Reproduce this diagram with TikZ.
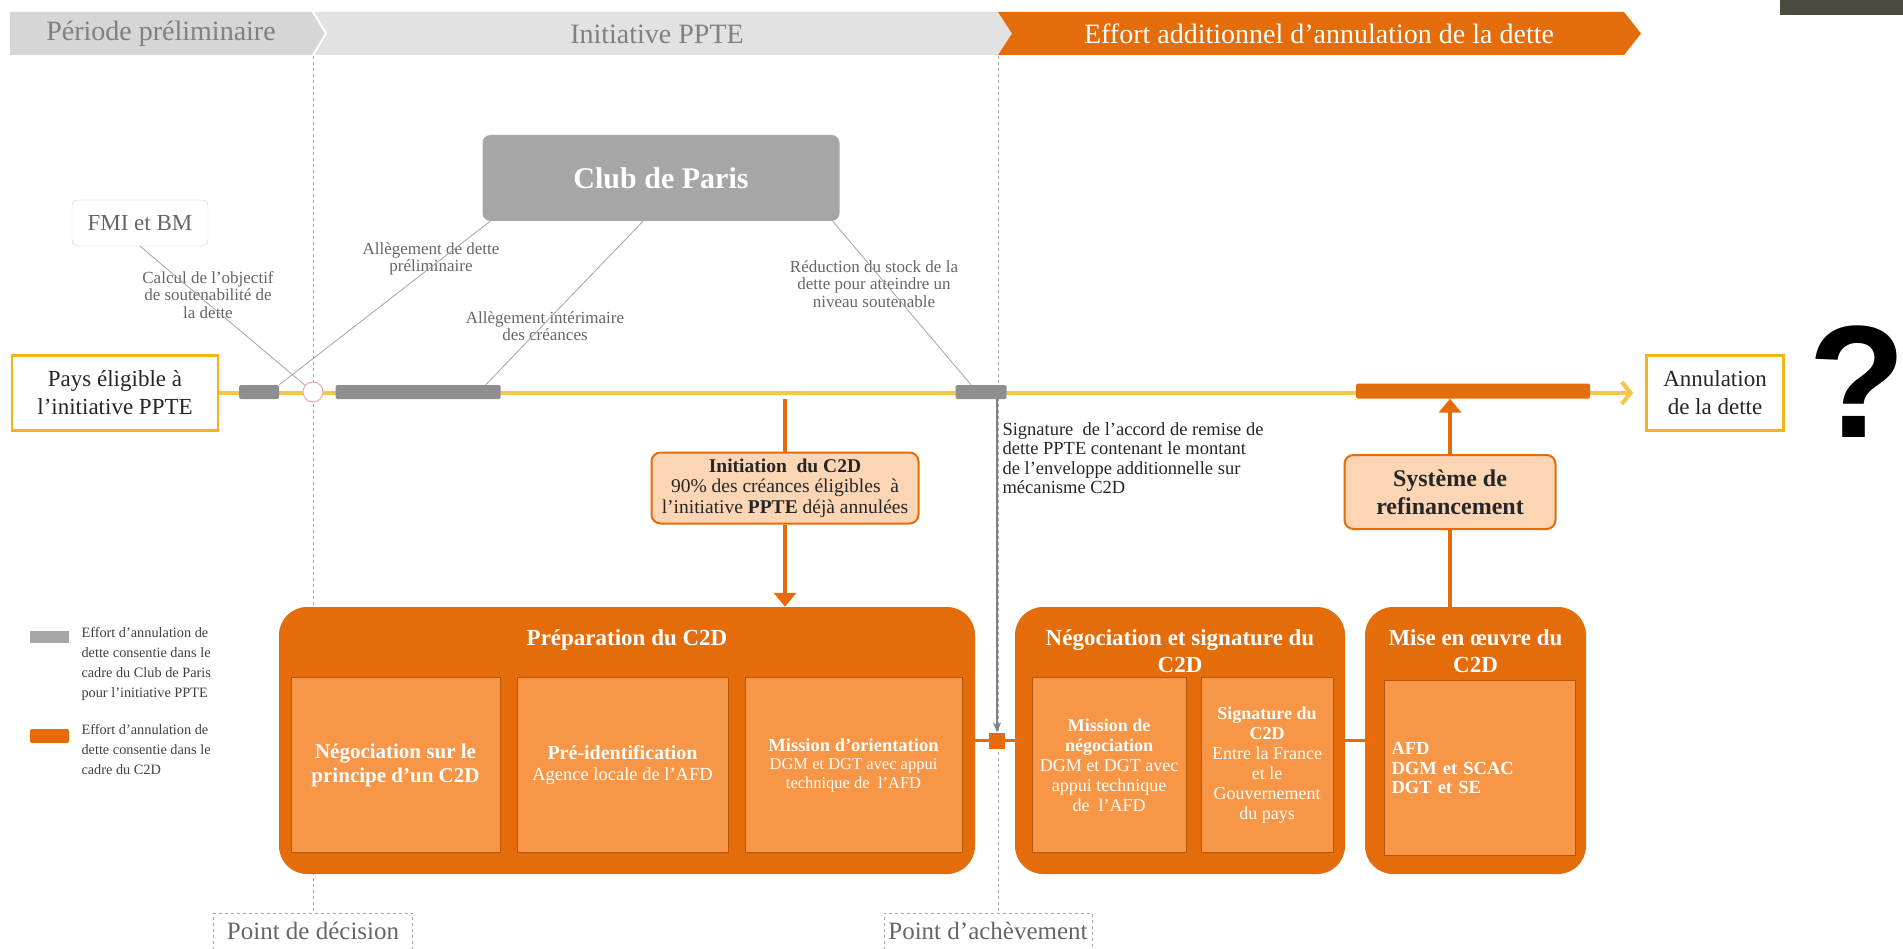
\documentclass[tikz,border=0pt]{standalone}
\usepackage{fontspec}
\setmainfont{Liberation Serif}
\newfontfamily\qfont{Liberation Sans}
\usetikzlibrary{arrows.meta}

\definecolor{c2dor}{HTML}{E46C0A}
\definecolor{c2dlight}{HTML}{F79646}
\definecolor{peach}{HTML}{FCD5B4}
\definecolor{cpgray}{HTML}{A6A6A6}
\definecolor{bargray}{HTML}{8F8F8F}
\definecolor{lblgray}{HTML}{666666}
\definecolor{tline}{HTML}{F7C54A}
\definecolor{gold}{HTML}{F2B31B}
\definecolor{banA}{HTML}{D6D6D6}
\definecolor{banB}{HTML}{E2E2E2}
\definecolor{darkcorner}{HTML}{4B4A3C}

\newcommand{\fsz}[2]{\fontsize{#1}{#2}\selectfont}

\tikzset{
  bantext/.style={font=\fsz{28}{32}},
  bar/.style={fill=bargray,rounded corners=1.5pt,minimum height=14pt,inner sep=0pt},
  lbl/.style={text=lblgray,font=\fsz{17}{17.5},align=center},
  thinline/.style={draw=lblgray!60,line width=0.8pt},
  endbox/.style={draw=gold,line width=2.5pt,fill=white,minimum height=75pt,align=center,
    text=black!85,font=\fsz{23}{28}},
  phase/.style={fill=c2dor,rounded corners=28pt,minimum height=267pt,inner sep=0pt},
  inbox/.style={fill=c2dlight,draw=c2dor!80!black,line width=0.6pt,minimum height=175pt,
    align=center,text=white,font=\fsz{18}{20},inner sep=1pt},
  ptitle/.style={text=white,font=\bfseries\fsz{23}{27},align=center},
  callout/.style={fill=peach,draw=c2dor,line width=2pt,rounded corners=9pt,align=center,
    text=black!85,font=\fsz{19.5}{20.5}},
  c2dline/.style={draw=c2dor,line width=3.5pt},
  c2darrow/.style={c2dline,-{Triangle[length=14pt,width=22pt]}},
  vline/.style={draw=gray!70,dashed,line width=0.7pt},
  pointbox/.style={draw=gray!70,dashed,line width=0.7pt,minimum height=36pt,text=lblgray,
    font=\fsz{25}{28}},
  legtext/.style={anchor=north west,align=left,text=black!75,font=\fsz{14.3}{20}},
}

\begin{document}
\begin{tikzpicture}[x=1pt,y=-1pt]
\useasboundingbox (0,0) rectangle (1903,949);
\fill[darkcorner] (1780,0) rectangle (1903,15);
\fill[banA] (10,12) -- (313,12) -- (326,33.5) -- (313,55) -- (10,55) -- cycle;
\fill[banB] (313,12) -- (998,12) -- (1012,33.5) -- (998,55) -- (313,55) -- (326,33.5) -- cycle;
\fill[c2dor] (998,12) -- (1624,12) -- (1641,33.5) -- (1624,55) -- (998,55) -- (1012,33.5) -- cycle;
\draw[white,line width=2pt] (313,12) -- (326,33.5) -- (313,55);
\node[bantext,text=gray] (tprelim) at (161,34) {Période préliminaire};
\node[bantext,text=gray] (tppte) at (657,34) {Initiative PPTE};
\node[bantext,text=white] (teffort) at (1319,34) {Effort additionnel d'annulation de la dette};

\node[pointbox,minimum width=199pt] (pdec) at (313,931) {Point de décision};
\node[pointbox,minimum width=208pt] (pach) at (988,931) {Point d'achèvement};
\coordinate (dtop) at (313,56);
\coordinate (atop) at (998,56);
\draw[vline] (dtop) -- (pdec.north);
\draw[vline] (atop) -- (atop |- pach.north);

\node[endbox,minimum width=206pt] (pays) at (115,393) {Pays éligible à\\l'initiative PPTE};
\node[endbox,minimum width=137pt] (annul) at (1715,393) {Annulation\\de la dette};
\draw[tline,line width=4pt,shorten >=12pt,-{Straight Barb[length=9pt,width=22pt]}] (pays.east) -- (annul.west);

\node[bar,minimum width=40pt] (bar1) at (259,392) {};
\node[circle,draw={rgb,255:red,233;green,168;blue,184},fill=white,line width=1pt,minimum size=20pt,inner sep=0pt] (dec) at (313,392) {};
\node[bar,minimum width=165pt] (bar2) at (418,392) {};
\node[bar,minimum width=51pt] (bar3) at (981,392) {};
\node[bar,fill=c2dor,minimum width=234pt,minimum height=15pt] (c2dbar) at (1473,391) {};

\node[fill=cpgray,rounded corners=8pt,minimum width=357pt,minimum height=86pt,text=white,font=\bfseries\fsz{30}{34}] (club) at (661,178) {Club de Paris};
\node[draw=gray!40,rounded corners=6pt,minimum width=136pt,minimum height=46pt,text=lblgray,font=\fsz{23}{26}] (fmi) at (140,223) {FMI et BM};

\node[lbl] (lcalc) at (208,295) {Calcul de l'objectif\\de soutenabilité de\\la dette};
\node[lbl] (lprelim) at (431,259) {Allègement de dette\\préliminaire};
\node[lbl] (linter) at (545,326) {Allègement intérimaire\\des créances};
\node[lbl] (lreduc) at (874,284) {Réduction du stock de la\\dette pour atteindre un\\niveau soutenable};

\draw[thinline] (fmi.south) -- (dec);
\draw[thinline] ([xshift=8pt]club.south west) -- (bar1.north east);
\draw[thinline] ([xshift=-18pt]club.south) -- ([xshift=-15pt]bar2.north east);
\draw[thinline] ([xshift=-7pt]club.south east) -- ([xshift=-10pt]bar3.north);

\node[phase,minimum width=696pt] (prep) at (627,740.5) {};
\node[ptitle] (prept) at (627,640) {Préparation du C2D};
\node[inbox,minimum width=209pt,font=\bfseries\fsz{21}{24}] (pa) at (395.5,765) {Négociation sur le\\principe d'un C2D};
\node[inbox,minimum width=211pt,font=\fsz{18.5}{21}] (pb) at (622.5,765) {{\bfseries\fsz{20}{22}Pré-identification}\\Agence locale de l'AFD};
\node[inbox,minimum width=217pt,font=\fsz{16.5}{18.5}] (pc) at (853.5,765) {{\bfseries\fsz{18.5}{20}Mission d'orientation}\\DGM et DGT avec appui\\technique de\ \ l'AFD};

\node[phase,minimum width=330pt] (neg) at (1180,740.5) {};
\node[ptitle] (negt) at (1180,651) {Négociation et signature du\\C2D};
\node[inbox,minimum width=154pt] (na) at (1109,765) {\textbf{Mission de}\\\textbf{négociation}\\DGM et DGT avec\\appui technique\\de\ \ l'AFD};
\node[inbox,minimum width=132pt] (nb) at (1267,765) {\textbf{Signature du}\\\textbf{C2D}\\Entre la France\\et le\\Gouvernement\\du pays};

\node[phase,minimum width=221pt] (mise) at (1475.5,740.5) {};
\node[ptitle] (miset) at (1475.5,651) {Mise en œuvre du\\C2D};
\node[inbox,minimum width=191pt,text width=176pt,align=left,font=\bfseries\fsz{18.5}{19.5}] (ma) at (1479.5,768) {AFD\\DGM et SCAC\\DGT et SE};

\node[fill=c2dor,minimum size=16pt,inner sep=0pt] (sq) at (997,740.5) {};
\draw[c2dline] (prep.east) -- (sq.west);
\draw[c2dline] (sq.east) -- (neg.west);
\draw[c2dline] (neg.east) -- (mise.west);
\draw[draw=gray,line width=1.5pt,-{Stealth[length=10pt,width=8pt]}] (bar3.south -| sq.north) -- (sq.north);

\node[callout,minimum width=267pt,minimum height=71pt] (init) at (785,488) {\textbf{Initiation\ \ du C2D}\\90\% des créances éligibles\ \ à\\l'initiative \textbf{PPTE} déjà annulées};
\coordinate (initsrc) at (785,399);
\draw[c2dline] (initsrc) -- (init.north);
\draw[c2darrow] (init.south) -- (prep.north -| init.south);

\node[callout,minimum width=211pt,minimum height=74pt,font=\bfseries\fsz{24}{28}] (refi) at (1450,492) {Système de\\refinancement};
\draw[c2dline] (mise.north -| refi.south) -- (refi.south);
\draw[c2darrow] (refi.north) -- (c2dbar.south -| refi.north);

\node[anchor=north west,align=left,text=black!85,font=\fsz{18.5}{19.5}] (sig) at (999,419) {Signature\ \ de l'accord de remise de\\dette PPTE contenant le montant\\de l'enveloppe additionnelle sur\\mécanisme C2D};

\node[fill=cpgray,minimum width=39pt,minimum height=12pt,inner sep=0pt] (leg1) at (49.5,637) {};
\node[legtext] (leg1t) at (78,624) {Effort d'annulation de\\dette consentie dans le\\cadre du Club de Paris\\pour l'initiative PPTE};
\node[fill=c2dor,rounded corners=2pt,minimum width=39pt,minimum height=14pt,inner sep=0pt] (leg2) at (49.5,736) {};
\node[legtext] (leg2t) at (78,721) {Effort d'annulation de\\dette consentie dans le\\cadre du C2D};

\node[font=\qfont\bfseries\fsz{160}{160}] (qmark) at (1857,382) {?};
\end{tikzpicture}
\end{document}
